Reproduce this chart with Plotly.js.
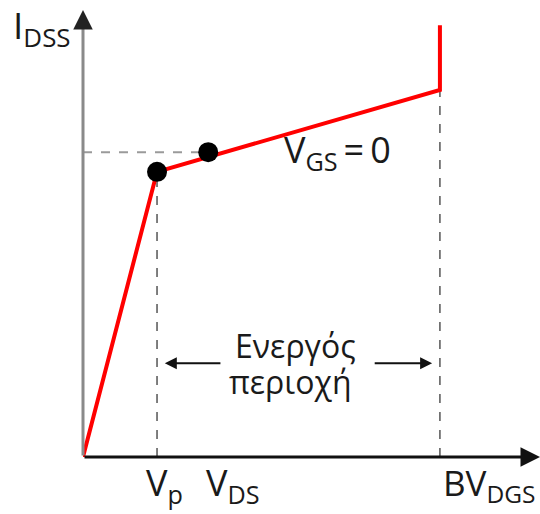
<!DOCTYPE html>
<html>
<head>
<meta charset="utf-8">
<script src="https://cdn.plot.ly/plotly-3.0.1.min.js"></script>
<style>
  html, body { margin: 0; padding: 0; background: #fff; }
  #chart { width: 540px; height: 514px; }
</style>
</head>
<body>
<div id="chart"></div>
<script>
// JFET output characteristic for V_GS = 0 (arbitrary units)
const curveVDS = [0, 16.2, 78.1, 78.1];
const curveID  = [0, 63.8, 82.1, 96.6];

// Marked operating points: pinch-off and a point in the active region
const pointVDS = [16.2, 27.4];
const pointID  = [63.8, 68.2];

// Key voltages on the V_DS axis
const Vp = 16.2;
const BVdgs = 78.1;
const IdssLevel = 68.2;

const textFont = { family: "Open Sans, Noto Sans, sans-serif", color: "#1a1a1a" };
const f = (size) => Object.assign({}, textFont, { size: size });

const traces = [
  {
    x: curveVDS, y: curveID, type: "scatter", mode: "lines",
    line: { color: "#ff0000", width: 4 }, hoverinfo: "skip", cliponaxis: false
  },
  {
    x: pointVDS, y: pointID, type: "scatter", mode: "markers",
    marker: { color: "#000", size: 20 }, hoverinfo: "skip", cliponaxis: false
  }
];

const shapes = [
  // reference level to the I axis
  { type: "line", xref: "x", yref: "y", x0: 0, x1: pointVDS[1], y0: IdssLevel, y1: IdssLevel,
    line: { color: "#9a9a9a", width: 2, dash: "dash" }, layer: "below" },
  // pinch-off voltage
  { type: "line", xref: "x", yref: "y", x0: Vp, x1: Vp, y0: 0, y1: curveID[1],
    line: { color: "#555", width: 1.5, dash: "dash" }, layer: "below" },
  // breakdown voltage
  { type: "line", xref: "x", yref: "y", x0: BVdgs, x1: BVdgs, y0: 0, y1: curveID[2],
    line: { color: "#555", width: 1.5, dash: "dash" }, layer: "below" }
];

const arrow = (x, y, ax, ay, color, width, head, size) => ({
  x: x, y: y, ax: ax, ay: ay, xref: "x", yref: "y", axref: "x", ayref: "y",
  text: "", showarrow: true, arrowhead: head, arrowsize: size,
  arrowwidth: width, arrowcolor: color, standoff: 0, startstandoff: 0
});

// labels placed in paper units (the plot area spans the whole 0..1 range)
const label = (x, y, text, size, xanchor) => ({
  x: x, y: y, xref: "paper", yref: "paper", xanchor: xanchor || "left", yanchor: "middle",
  text: text, showarrow: false, font: f(size), borderpad: 0
});

const annotations = [
  // axes
  arrow(0, 97.5, 0, 0, "#8a8a8a", 3, 0, 1),
  arrow(0, 100, 0, 96, "#222", 3, 2, 1.3),
  arrow(100, 0, 0, 0, "#111", 3, 2, 1.3),
  // active region span
  arrow(17.9, 21.0, 30.4, 21.0, "#111", 2, 2, 1.2),
  arrow(76.4, 21.0, 63.5, 21.0, "#111", 2, 2, 1.2),
  // labels
  label(-0.155, 0.962, "I<sub>DSS</sub>", 37),
  label(0.136, -0.061, "V<sub>p</sub>", 36),
  label(0.267, -0.061, "V<sub>DS</sub>", 36),
  label(0.785, -0.061, "BV<sub>DGS</sub>", 35),
  label(0.438, 0.683, "V<sub>GS</sub>\u2009=\u20090", 36),
  label(0.464, 0.25, "Ενεργός", 32, "center"),
  label(0.453, 0.168, "περιοχή", 32, "center")
];

const layout = {
  width: 540, height: 514,
  margin: { l: 83, r: 0, t: 10, b: 57, pad: 0 },
  paper_bgcolor: "#fff", plot_bgcolor: "#fff",
  showlegend: false,
  xaxis: { range: [0, 100], visible: false, fixedrange: true },
  yaxis: { range: [0, 100], visible: false, fixedrange: true },
  shapes: shapes,
  annotations: annotations
};

Plotly.newPlot("chart", traces, layout, { displayModeBar: false, staticPlot: true });
</script>
</body>
</html>
